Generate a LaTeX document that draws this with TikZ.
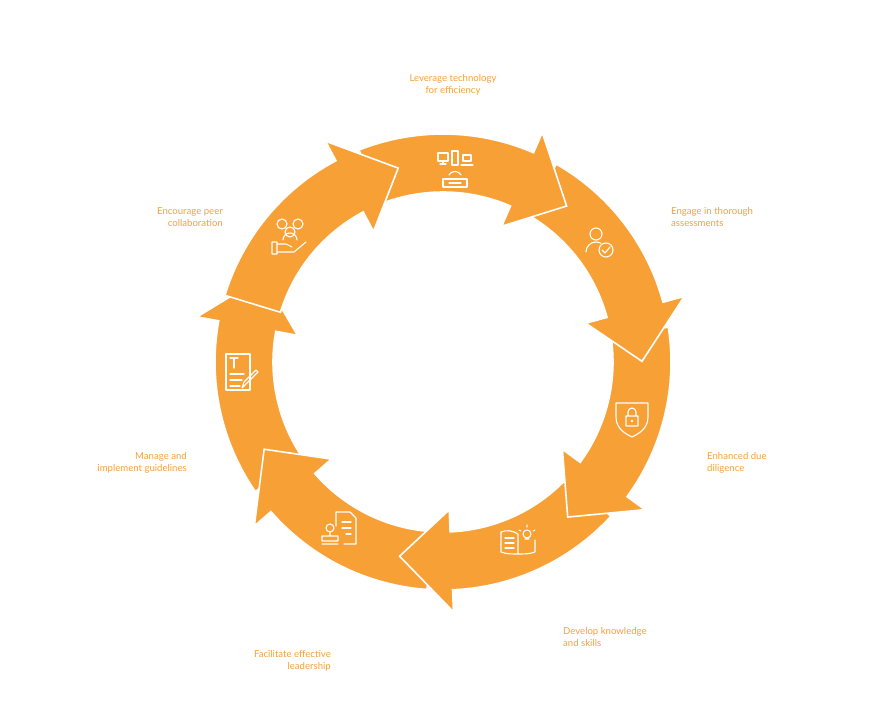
\documentclass[tikz,border=0pt]{standalone}
\usepackage{fontspec}
\setmainfont{Lato}
\definecolor{ringorange}{HTML}{F7A036}
\tikzset{
  seg/.style={fill=ringorange, draw=white, line width=1.6pt, line join=miter},
  lbl/.style={text=ringorange, font=\fontsize{9.6}{11.5}\selectfont, inner sep=0pt},
  icon/.style={draw=white, line width=1.1pt, line cap=round, line join=round}
}
\begin{document}
\begin{tikzpicture}[x=1pt,y=1pt]
\useasboundingbox (-443,-356) rectangle (427,362);
% ring segments, tip angles
\foreach \t in {154.6,-154,-102.6,-51.2,0.2,51.6,103} {
  \draw[seg] (\t+15:228) arc[start angle=\t+15, end angle=\t+60, radius=228]
    -- (\t+60:170) arc[start angle=\t+60, end angle=\t+15, radius=170]
    -- (\t+15:148) -- (\t:199) -- (\t+15:250) -- cycle;
}
% icons
\begin{scope}[shift={(12,197)}]
\draw[icon] (-17,4) rectangle (-7,12) (-12,4) -- (-12,1) (-15,1) -- (-9,1);
\draw[icon] (-3,0) rectangle (3,14);
\draw[icon] (8,4) rectangle (16,10) (6,0) -- (18,0);
\draw[icon] (-12,-22) rectangle (12,-14) (-6,-18) -- (6,-18);
\draw[icon] (-6,-10) arc[start angle=150, end angle=30, radius=7];
\end{scope}
\begin{scope}[shift={(157,122)}]
\draw[icon] (-4,6) circle (6);
\draw[icon] (-14,-12) arc[start angle=180, end angle=60, radius=10];
\draw[icon] (6,-10) circle (7) (2,-10) -- (5,-13) -- (10,-7);
\end{scope}
\begin{scope}[shift={(189,-55)}]
\draw[icon] (-16,14) -- (16,14) -- (16,0) .. controls (16,-12) and (6,-17) .. (0,-20) .. controls (-6,-17) and (-16,-12) .. (-16,0) -- cycle;
\draw[icon] (-6,-9) rectangle (6,1) (-4,1) -- (-4,5) arc[start angle=180, end angle=0, radius=4] -- (4,1);
\fill[white] (0,-4) circle (1.4);
\end{scope}
\begin{scope}[shift={(75,-178)}]
\draw[icon] (0,-14) -- (0,6) .. controls (-6,10) and (-12,10) .. (-17,8) -- (-17,-12) .. controls (-12,-14) and (-6,-14) .. (0,-14) .. controls (6,-14) and (12,-14) .. (17,-12) -- (17,0);
\draw[icon] (-13,2) -- (-4,2) (-13,-3) -- (-4,-3) (-13,-8) -- (-4,-8);
\draw[icon] (9,6) circle (4) (7,1) -- (11,1);
\draw[icon] (9,13) -- (9,15) (15,9) -- (17,10) (3,9) -- (1,10);
\end{scope}
\begin{scope}[shift={(-103,-168)}]
\draw[icon] (-4,18) -- (10,18) -- (16,12) -- (16,-14) -- (4,-14) (-4,18) -- (-4,4);
\draw[icon] (2,8) -- (11,8) (2,2) -- (11,2) (6,-4) -- (11,-4);
\draw[icon] (-10,2) circle (4) (-10,-2) -- (-10,-6) (-18,-6) rectangle (-2,-11) (-18,-14) -- (-2,-14);
\end{scope}
\begin{scope}[shift={(-203,-10)}]
\draw[icon] (-14,18) rectangle (10,-18);
\draw[icon] (-10,14) -- (-2,14) (-6,14) -- (-6,4) (-10,-2) -- (4,-2) (-10,-8) -- (2,-8) (-10,-14) -- (0,-14);
\draw[icon] (2,-16) -- (4,-10) -- (16,2) -- (18,0) -- (6,-12) -- cycle;
\end{scope}
\begin{scope}[shift={(-153,130)}]
\draw[icon] (-8,8) circle (5) (8,8) circle (5) (0,0) circle (5);
\draw[icon] (-7,-8) arc[start angle=180, end angle=0, radius=7];
\draw[icon] (-18,-10) rectangle (-13,-22) (-13,-12) -- (-4,-12) -- (2,-15) (-13,-20) -- (4,-20) -- (16,-10);
\end{scope}
% labels
\node[lbl, align=center] (tech) at (10,277) {Leverage technology\\for efficiency};
\node[lbl, align=left, anchor=west] (assess) at (228,145) {Engage in thorough\\assessments};
\node[lbl, align=left, anchor=west] (dilig) at (264,-101) {Enhanced due\\diligence};
\node[lbl, align=left, anchor=west] (know) at (120,-275) {Develop knowledge\\and skills};
\node[lbl, align=right, anchor=east] (lead) at (-112,-299) {Facilitate effective\\leadership};
\node[lbl, align=right, anchor=east] (guide) at (-256,-101) {Manage and\\implement guidelines};
\node[lbl, align=right, anchor=east] (peer) at (-220,145) {Encourage peer\\collaboration};
\end{tikzpicture}
\end{document}
